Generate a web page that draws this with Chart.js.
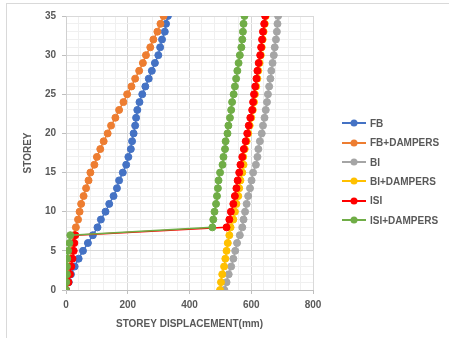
<!DOCTYPE html>
<html>
<head>
<meta charset="utf-8">
<script src="https://cdn.jsdelivr.net/npm/chart.js@4/dist/chart.umd.min.js"></script>
<style>
  html, body { margin: 0; padding: 0; background: #fff; }
  #wrap { position: relative; width: 449px; height: 338px; overflow: hidden; }
  #frame { position: absolute; left: 6px; top: 3px; width: 470px; height: 360px;
           border-top: 1px solid #d9d9d9; border-left: 1px solid #d9d9d9; }
  #chart { position: absolute; left: 0; top: 0; }
  #legend { position: absolute; left: 342px; top: 113.6px;
            font: bold 10px "Liberation Sans", Arial, sans-serif; color: #595959; }
  .item { display: flex; align-items: center; height: 19.4px; white-space: nowrap; }
  .item svg { margin-right: 3px; flex: none; }
</style>
</head>
<body>
<div id="wrap">
  <div id="frame"></div>
  <canvas id="chart" width="449" height="338"></canvas>
  <div id="legend"></div>
</div>
<script>
// Storey numbers (y axis) and labelled tick values
const storeys = [0,1,2,3,4,5,6,7,8,9,10,11,12,13,14,15,16,17,18,19,20,21,22,23,24,25,26,27,28,29,30,31,32,33,34,35];
const storeyTickLabels = [0,5,10,15,20,25,30,35];
const displacementTickLabels = [0,200,400,600,800];

// Storey displacement (mm) for each storey, 0 to 35
const fb         = [0,9,16,28,41,55,71,87,102,113,128,140,154,165,172,184,195,202,210,214,219,224,227,231,238,247,257,268,278,288,299,305,311,320,324,330];
const fbDampers  = [0,3,7,10,14,18,22,26,32,39,44,49,57,65,73,79,92,100,111,122,135,146,160,172,186,198,212,224,237,249,259,273,283,296,306,316];
const bi         = [513,520,527,535,542,548,554,563,571,575,580,585,590,596,601,606,615,620,623,628,634,638,643,647,651,654,658,662,665,669,673,676,680,683,685,687];
const biDampers  = [499,502,506,512,516,520,524,529,533,542,547,552,558,561,565,571,575,574,579,585,590,595,600,605,609,612,616,620,623,627,631,634,637,640,644,647];
const isi        = [0,8,13,17,21,25,27,30,520,529,534,542,547,552,556,561,565,571,576,582,587,592,597,603,606,609,613,617,620,624,629,632,635,638,642,645];
const isiDampers = [0,1,3,3,4,7,11,14,474,477,481,486,489,492,494,499,507,510,515,517,523,526,531,535,538,543,547,551,555,559,563,568,571,573,575,578];

const seriesNames  = ['FB','FB+DAMPERS','BI','BI+DAMPERS','ISI','ISI+DAMPERS'];
const seriesValues = [fb, fbDampers, bi, biDampers, isi, isiDampers];
const seriesColors = ['#4472C4','#ED7D31','#A5A5A5','#FFC000','#FF0000','#70AD47'];

const FONT = '"Liberation Sans", Arial, sans-serif';
const TEXT = '#595959';

const datasets = seriesNames.map((name, i) => ({
  label: name,
  data: storeys.map((s, k) => ({ x: seriesValues[i][k], y: s })),
  borderColor: seriesColors[i],
  backgroundColor: seriesColors[i],
  pointBackgroundColor: seriesColors[i],
  pointBorderColor: seriesColors[i],
  pointRadius: 3.5,
  pointBorderWidth: 1,
  borderWidth: 1.5,
  tension: 0,
  fill: false,
  // later series sit on top
  order: seriesNames.length - 1 - i
}));

const isMajorX = v => v % 200 === 0;
const isMajorY = v => v % 5 === 0;

new Chart(document.getElementById('chart'), {
  type: 'line',
  data: { datasets },
  options: {
    responsive: false,
    animation: false,
    devicePixelRatio: 1,
    layout: { padding: { left: 0, top: 16, right: 136, bottom: 8 } },
    plugins: { legend: { display: false }, tooltip: { enabled: false } },
    scales: {
      x: {
        type: 'linear',
        min: 0, max: 800,
        afterFit: s => { s.height = 40; },
        ticks: {
          stepSize: 40, autoSkip: false, maxRotation: 0, padding: 5,
          color: TEXT, font: { family: FONT, size: 10, weight: 'bold' },
          callback: v => displacementTickLabels.includes(v) ? String(v) : ''
        },
        grid: {
          color: c => (c.tick && isMajorX(c.tick.value)) ? '#d9d9d9' : '#f0f0f0',
          tickColor: c => (c.tick && isMajorX(c.tick.value)) ? '#bfbfbf' : 'rgba(0,0,0,0)',
          tickLength: 4, lineWidth: 1
        },
        border: { color: '#bfbfbf', width: 1 },
        title: {
          display: true, text: 'STOREY DISPLACEMENT(mm)', color: TEXT,
          font: { family: FONT, size: 10, weight: 'bold' },
          padding: { top: 2, bottom: 0 }
        }
      },
      y: {
        type: 'linear',
        min: 0, max: 35,
        afterFit: s => { s.width = 66; },
        ticks: {
          stepSize: 1, autoSkip: false, padding: 6,
          color: TEXT, font: { family: FONT, size: 10, weight: 'bold' },
          callback: v => storeyTickLabels.includes(v) ? String(v) : ''
        },
        grid: {
          color: c => (c.tick && isMajorY(c.tick.value)) ? '#d9d9d9' : '#f0f0f0',
          tickColor: c => (c.tick && isMajorY(c.tick.value)) ? '#bfbfbf' : 'rgba(0,0,0,0)',
          tickLength: 4, lineWidth: 1
        },
        border: { color: '#d0d0d0', width: 1 },
        title: {
          display: true, text: 'STOREY', color: TEXT,
          font: { family: FONT, size: 10, weight: 'bold' },
          padding: { top: 22, bottom: 0 }
        }
      }
    }
  }
});

// Legend: line with a marker, then the series name
const legend = document.getElementById('legend');
seriesNames.forEach((name, i) => {
  const item = document.createElement('div');
  item.className = 'item';
  const c = seriesColors[i];
  item.innerHTML =
    '<svg width="25" height="10" viewBox="0 0 25 10">' +
    '<line x1="0" y1="5" x2="24" y2="5" stroke="' + c + '" stroke-width="2"/>' +
    '<circle cx="12" cy="5" r="3.5" fill="' + c + '"/></svg>' +
    '<span>' + name + '</span>';
  legend.appendChild(item);
});
</script>
</body>
</html>
